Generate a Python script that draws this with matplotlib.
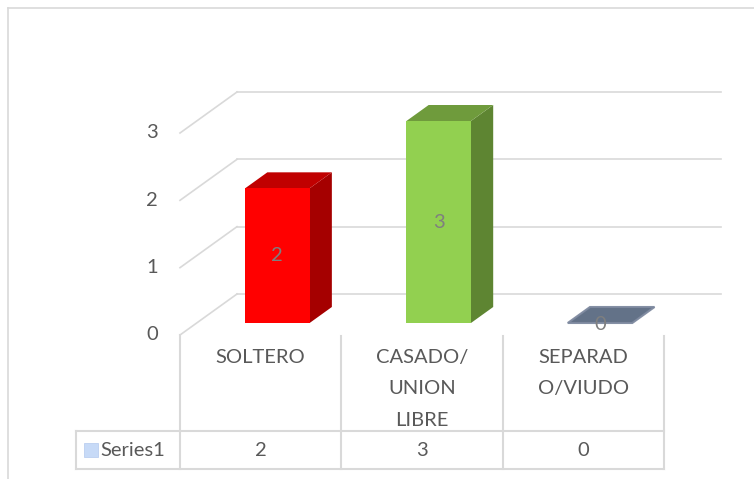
import matplotlib
matplotlib.use("Agg")
import matplotlib.pyplot as plt
from matplotlib.patches import Polygon, Rectangle
from matplotlib.lines import Line2D

categories = ["SOLTERO", "CASADO/\nUNION\nLIBRE", "SEPARAD\nO/VIUDO"]
values = [2, 3, 0]
series_name = "Series1"
yticks = [0, 1, 2, 3]

front_colors = ["#ff0000", "#92d050", "#5b6a82"]
side_colors = ["#a50000", "#5e8532", "#4a576b"]
top_colors = ["#c00000", "#6f9b3c", "#5b6a82"]

W, H = 754, 479
fig = plt.figure(figsize=(W / 100, H / 100), dpi=100)
fig.patch.set_facecolor("white")

# axes = front plane of the 3D plot
x0, x1 = 180, 664
y_front0, y_front3 = 335, 133
ax = fig.add_axes([x0 / W, (H - y_front0) / H, (x1 - x0) / W, (y_front0 - y_front3) / H])
ax.set_xlim(-0.5, 2.5)
ax.set_ylim(0, 3)
ax.axis("off")

px_per_x = (x1 - x0) / 3.0
px_per_y = (y_front0 - y_front3) / 3.0
# depth offset: back wall is 57 px right and 41 px up of the front plane
kx = 57 / px_per_x
ky = 41 / px_per_y

def P(x, v, d):
    return (x + d * kx, v + d * ky)

grid_c = "#d9d9d9"
text_c = "#595959"
font = "Lato"
fs = 14.5

# back wall gridlines + left diagonals
for v in yticks:
    a, b = P(-0.5, v, 1), P(2.5, v, 1)
    ax.add_line(Line2D([a[0], b[0]], [a[1], b[1]], color=grid_c, lw=1.2, clip_on=False, zorder=1))
    c = P(-0.5, v, 0)
    ax.add_line(Line2D([c[0], a[0]], [c[1], a[1]], color=grid_c, lw=1.2, clip_on=False, zorder=1))
    ax.text(-0.5 - 28 / px_per_x, v, str(v), ha="center", va="center", fontsize=fs,
            color=text_c, family=font)

# bars
bw = 0.40
df, db = 12 / 41, 28 / 41
for i, (v, fc, sc, tc) in enumerate(zip(values, front_colors, side_colors, top_colors)):
    l, r = i - bw / 2, i + bw / 2
    if v > 0:
        front = [P(l, 0, df), P(r, 0, df), P(r, v, df), P(l, v, df)]
        side = [P(r, 0, df), P(r, 0, db), P(r, v, db), P(r, v, df)]
        top = [P(l, v, df), P(r, v, df), P(r, v, db), P(l, v, db)]
        for poly, c in ((side, sc), (top, tc), (front, fc)):
            ax.add_patch(Polygon(poly, closed=True, facecolor=c, edgecolor="none",
                                 clip_on=False, zorder=3))
        cx, cy = P(i, v / 2, df)
        ax.text(cx, cy, str(v), ha="center", va="center", fontsize=fs, color="#7f7f7f",
                family=font, zorder=5)
    else:
        top = [P(l, v, df), P(r, v, df), P(r, v, db), P(l, v, db)]
        ax.add_patch(Polygon(top, closed=True, facecolor=tc, edgecolor="#7f8aa0", lw=1.5,
                             alpha=0.95, clip_on=False, zorder=3))
        cx, cy = P(i, v, df)
        ax.text(cx, cy - 2 / px_per_y, str(v), ha="center", va="center", fontsize=fs,
                color="#7f7f7f", family=font, zorder=5)

# data table
y_row_top = (y_front0 - 431) / px_per_y
y_row_bot = (y_front0 - 469) / px_per_y
x_tab_left = -0.5 - (x0 - 76) / px_per_x
for xb in [-0.5, 0.5, 1.5, 2.5]:
    ax.add_line(Line2D([xb, xb], [0 if xb == -0.5 else -1 / px_per_y, y_row_bot], color=grid_c,
                       lw=1.5, clip_on=False))
for yy in (y_row_top, y_row_bot):
    ax.add_line(Line2D([x_tab_left, 2.5], [yy, yy], color=grid_c, lw=1.5, clip_on=False))
ax.add_line(Line2D([x_tab_left, x_tab_left], [y_row_top, y_row_bot], color=grid_c, lw=1.5,
                   clip_on=False))

y_lab = (y_front0 - 349) / px_per_y
for i, cat in enumerate(categories):
    ax.text(i, y_lab, cat, ha="center", va="top", fontsize=fs, color=text_c, family=font,
            linespacing=2.02)

y_mid = (y_row_top + y_row_bot) / 2
for i, v in enumerate(values):
    ax.text(i, y_mid, str(v), ha="center", va="center", fontsize=fs, color=text_c, family=font)

# legend key + series name
kx0 = -0.5 - (x0 - 84) / px_per_x
ks_w = 14 / px_per_x
ks_h = 14 / px_per_y
ax.add_patch(Rectangle((kx0, y_mid - ks_h / 2), ks_w, ks_h, facecolor="#c7daf7",
                       edgecolor="#b4c9ee", lw=0.5, clip_on=False))
ax.text(kx0 + ks_w + 2 / px_per_x, y_mid, series_name, ha="left", va="center", fontsize=fs,
        color=text_c, family=font)

# chart area border
fig.add_artist(Line2D([8 / W, 1], [1 - 8 / H, 1 - 8 / H], transform=fig.transFigure,
                      color=grid_c, lw=1.2))
fig.add_artist(Line2D([8 / W, 8 / W], [0, 1 - 8 / H], transform=fig.transFigure,
                      color=grid_c, lw=1.2))

fig.savefig("out.png", dpi=100, facecolor="white")
